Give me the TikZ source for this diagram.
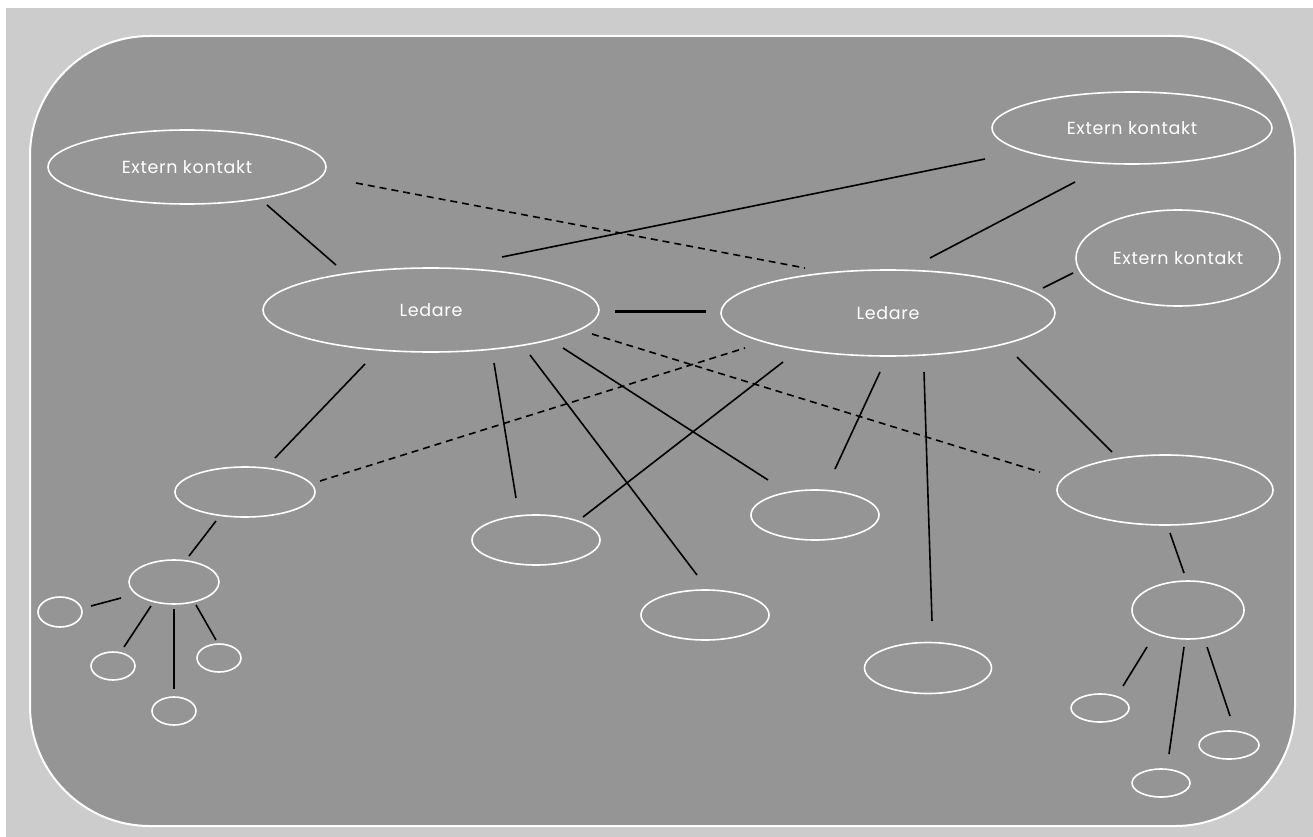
\documentclass[tikz,border=0pt]{standalone}
\usepackage{fontspec}
\setmainfont[LetterSpace=4]{Poppins}
\usetikzlibrary{shapes.geometric}
\definecolor{bglight}{HTML}{CCCCCC}
\definecolor{bgdark}{HTML}{959595}
\begin{document}
\begin{tikzpicture}[x=1pt,y=-1pt,
  ell/.style={ellipse,draw=white,line width=1.6pt,inner sep=0pt,text=white,
    font=\fontsize{17.5}{20}\selectfont},
  con/.style={line width=1.6pt,draw=black},
  dcon/.style={con,dash pattern=on 7pt off 5pt},
  thick con/.style={line width=3pt,draw=black}]
\useasboundingbox (0,0) rectangle (1313,837);
\fill[white] (0,0) rectangle (1313,837);
\fill[bglight] (6,8) rectangle (1313,837);
\filldraw[fill=bgdark,draw=white,line width=2pt,rounded corners=120pt] (30,36) rectangle (1295,826);

% nodes
\node[ell,minimum width=278pt,minimum height=74pt] (E1) at (187,167) {Extern kontakt};
\node[ell,minimum width=280pt,minimum height=72pt] (E2) at (1132,128) {Extern kontakt};
\node[ell,minimum width=204pt,minimum height=96pt] (E3) at (1178,258) {Extern kontakt};
\node[ell,minimum width=336pt,minimum height=84pt] (L1) at (431,310) {Ledare};
\node[ell,minimum width=334pt,minimum height=86pt] (L2) at (888,313) {Ledare};
\node[ell,minimum width=140pt,minimum height=50pt] (A) at (245,492) {};
\node[ell,minimum width=128pt,minimum height=50pt] (B) at (536,540) {};
\node[ell,minimum width=128pt,minimum height=50pt] (C) at (705,615) {};
\node[ell,minimum width=128pt,minimum height=50pt] (D) at (815,515) {};
\node[ell,minimum width=127pt,minimum height=51pt] (F) at (928,668) {};
\node[ell,minimum width=216pt,minimum height=70pt] (G) at (1165,490) {};
\node[ell,minimum width=90pt,minimum height=44pt] (H) at (174,582) {};
\node[ell,minimum width=44pt,minimum height=30pt] (h1) at (60,612) {};
\node[ell,minimum width=44pt,minimum height=28pt] (h2) at (113,666) {};
\node[ell,minimum width=44pt,minimum height=28pt] (h3) at (174,711) {};
\node[ell,minimum width=44pt,minimum height=28pt] (h4) at (219,658) {};
\node[ell,minimum width=112pt,minimum height=58pt] (I) at (1188,610) {};
\node[ell,minimum width=58pt,minimum height=28pt] (i1) at (1100,708) {};
\node[ell,minimum width=58pt,minimum height=28pt] (i2) at (1161,783) {};
\node[ell,minimum width=60pt,minimum height=28pt] (i3) at (1229,745) {};

% connector end points (lines stop short of the ellipses)
\coordinate (e1l1a) at (267,205);  \coordinate (e1l1b) at (336,265);
\coordinate (e2l1a) at (985,159);  \coordinate (e2l1b) at (502,257);
\coordinate (e2l2a) at (1075,182); \coordinate (e2l2b) at (930,258);
\coordinate (e3l2a) at (1073,273); \coordinate (e3l2b) at (1043,288);
\coordinate (e1l2a) at (356,183);  \coordinate (e1l2b) at (805,268);
\coordinate (l1l2a) at (615,311);  \coordinate (l1l2b) at (706,311);
\coordinate (l1ga) at (592,334);   \coordinate (l1gb) at (1040,472);
\coordinate (al2a) at (320,481);   \coordinate (al2b) at (745,348);
\coordinate (l1aa) at (365,364);   \coordinate (l1ab) at (275,458);
\coordinate (l1ba) at (494,363);   \coordinate (l1bb) at (516,498);
\coordinate (l1ca) at (530,355);   \coordinate (l1cb) at (697,575);
\coordinate (l1da) at (563,348);   \coordinate (l1db) at (768,480);
\coordinate (l2ba) at (783,362);   \coordinate (l2bb) at (583,517);
\coordinate (l2da) at (880,372);   \coordinate (l2db) at (835,469);
\coordinate (l2fa) at (924,372);   \coordinate (l2fb) at (932,621);
\coordinate (l2ga) at (1017,357);  \coordinate (l2gb) at (1112,452);
\coordinate (aha) at (216,521);    \coordinate (ahb) at (189,556);
\coordinate (gia) at (1170,533);   \coordinate (gib) at (1184,573);
\coordinate (hh1a) at (121,598);   \coordinate (hh1b) at (91,606);
\coordinate (hh2a) at (151,606);   \coordinate (hh2b) at (124,647);
\coordinate (hh3a) at (174,609);   \coordinate (hh3b) at (174,689);
\coordinate (hh4a) at (196,605);   \coordinate (hh4b) at (216,640);
\coordinate (ii1a) at (1147,647);  \coordinate (ii1b) at (1123,686);
\coordinate (ii2a) at (1184,647);  \coordinate (ii2b) at (1169,754);
\coordinate (ii3a) at (1207,647);  \coordinate (ii3b) at (1230,716);

% connectors
\draw[con] (e1l1a) -- (e1l1b);
\draw[con] (e2l1a) -- (e2l1b);
\draw[con] (e2l2a) -- (e2l2b);
\draw[con] (e3l2a) -- (e3l2b);
\draw[dcon] (e1l2a) -- (e1l2b);
\draw[thick con] (l1l2a) -- (l1l2b);
\draw[dcon] (l1ga) -- (l1gb);
\draw[dcon] (al2a) -- (al2b);
\draw[con] (l1aa) -- (l1ab);
\draw[con] (l1ba) -- (l1bb);
\draw[con] (l1ca) -- (l1cb);
\draw[con] (l1da) -- (l1db);
\draw[con] (l2ba) -- (l2bb);
\draw[con] (l2da) -- (l2db);
\draw[con] (l2fa) -- (l2fb);
\draw[con] (l2ga) -- (l2gb);
\draw[con] (aha) -- (ahb);
\draw[con] (gia) -- (gib);
\draw[con] (hh1a) -- (hh1b);
\draw[con] (hh2a) -- (hh2b);
\draw[con] (hh3a) -- (hh3b);
\draw[con] (hh4a) -- (hh4b);
\draw[con] (ii1a) -- (ii1b);
\draw[con] (ii2a) -- (ii2b);
\draw[con] (ii3a) -- (ii3b);
\end{tikzpicture}
\end{document}
